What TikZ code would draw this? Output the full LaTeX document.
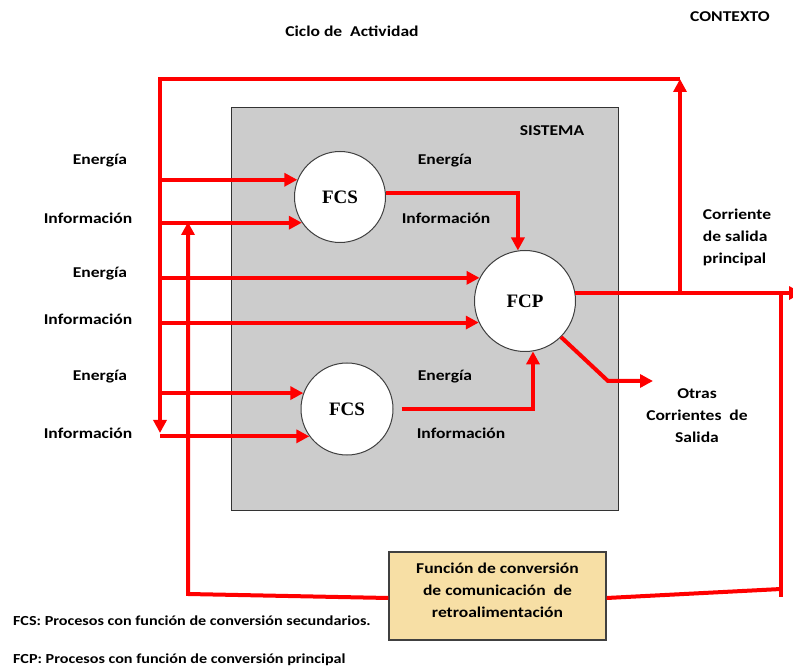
\documentclass[tikz,border=0pt]{standalone}
\usepackage{fontspec}
\setmainfont{Carlito}[FakeStretch=1.17]
\newfontfamily\circfont{Liberation Serif}
\usetikzlibrary{arrows.meta}
\definecolor{boxfill}{HTML}{F7DFA5}
\definecolor{sysfill}{HTML}{CCCCCC}
\begin{document}
\begin{tikzpicture}[x=1pt,y=-1pt,
  rl/.style={draw=red, line width=4pt},
  arr/.style={rl, -{Triangle[length=13pt,width=13pt]}},
  lbl/.style={font=\bfseries\fontsize{15}{22}\selectfont, inner sep=0pt, text=black},
  legend/.style={lbl, anchor=west, font=\bfseries\fontsize{13.8}{16}\selectfont},
  circ/.style={circle, draw=black!75, line width=1pt, fill=white, inner sep=0pt, font=\circfont\bfseries\fontsize{19}{22}\selectfont},
  sysbox/.style={draw=black!80, fill=sysfill, line width=1.2pt, inner sep=0pt},
  fbox/.style={draw=black!75, fill=boxfill, line width=1.2pt, inner sep=0pt}
]
\useasboundingbox (0,0) rectangle (793,668);

% system box
\node[sysbox, minimum width=387pt, minimum height=403pt, anchor=north west] (sis) at (231,107) {};
\node[lbl] (sistema) at (552,131) {SISTEMA};

% circles
\node[circ, minimum size=91pt] (fcs1) at (340,197) {FCS};
\node[circ, minimum size=92pt] (fcs2) at (347,409) {FCS};
\node[circ, minimum size=101pt] (fcp) at (525,301) {FCP};

% feedback box
\node[fbox, minimum width=217pt, minimum height=88pt] (fb) at (497.5,596) {};
\node[lbl, align=center] (fbt) at (497.5,590) {Función de conversión\\de comunicación~~de\\retroalimentación};

% coordinates
\coordinate (L) at (160,0);
\coordinate (TL) at (160,79);
\coordinate (TR) at (680,79);
\coordinate (J) at (680,293);
\coordinate (LB) at (160,433);
\coordinate (OutR) at (802,293);
\coordinate (R1) at (781,293);
\coordinate (R2) at (781,597);
\coordinate (R3) at (781,589);
\coordinate (FL) at (188,594);
\coordinate (FT) at (188,222);
\coordinate (O1) at (608,381);
\coordinate (O2) at (653,381);

% outer loop
\draw[arr] (J) -- (TR);
\draw[arr] (TR) -- (TL) -- (LB);

% main output
\draw[arr] (fcp.9) -- (fcp.9 -| OutR);
\draw[rl] (R1) -- (R2);
\draw[rl] (R3) -- ([yshift=-2pt]fb.east);

% feedback to left
\draw[arr] ([yshift=-2pt]fb.west) -- (FL) -- (FT);

% inputs
\draw[arr] (fcs1.158 -| L) -- (fcs1.158);
\draw[arr] (fcs1.214 -| L) -- (fcs1.214);
\draw[arr] (fcp.153 -| L) -- (fcp.153);
\draw[arr] (fcp.205 -| L) -- (fcp.205);
\draw[arr] (fcs2.160 -| L) -- (fcs2.160);
\draw[arr] (fcs2.216 -| L) -- (fcs2.216);

% internal flows
\draw[arr] (fcs1.5) -- (fcs1.5 -| fcp.98) -- (fcp.98);
\draw[arr] ([xshift=8pt]fcs2.east) -- (fcs2.east -| fcp.-81) -- (fcp.-81);
\draw[arr] (fcp.-45) -- (O1) -- (O2);

% labels
\node[lbl] (ciclo) at (352,31) {Ciclo de~~Actividad};
\node[lbl] (ctx) at (730,17) {CONTEXTO};
\node[lbl] (e1) at (100,161) {Energía};
\node[lbl] (i1) at (88,218) {Información};
\node[lbl] (e2) at (100,274) {Energía};
\node[lbl] (i2) at (88,319) {Información};
\node[lbl] (e3) at (100,377) {Energía};
\node[lbl] (i3) at (88,433) {Información};
\node[lbl] (e4) at (445,161) {Energía};
\node[lbl] (i4) at (446,218) {Información};
\node[lbl] (e5) at (445,377) {Energía};
\node[lbl] (i5) at (461,433) {Información};
\node[lbl, align=left] (csp) at (737,237) {Corriente\\de salida\\principal};
\node[lbl, align=center] (ocs) at (697,416) {Otras\\Corrientes~~de\\Salida};
\node[legend] (leg1) at (13,621) {FCS: Procesos con función de conversión secundarios.};
\node[legend] (leg2) at (13,660) {FCP: Procesos con función de conversión principal};
\end{tikzpicture}
\end{document}
